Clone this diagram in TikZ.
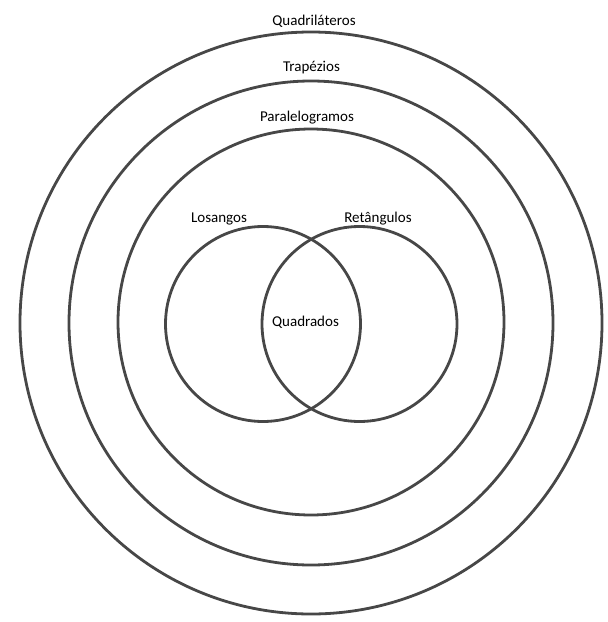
\documentclass[tikz,border=0pt]{standalone}
\usepackage{fontspec}
\setmainfont{Carlito}
\definecolor{ringgray}{HTML}{474747}

\begin{document}
\begin{tikzpicture}[x=1pt,y=-1pt,line cap=round,line join=round,
  every node/.style={inner sep=0pt,font=\fontsize{15}{18}\selectfont},
  ring/.style={draw=ringgray,line width=2.8pt}]
  \useasboundingbox (0,0) rectangle (608,622);
  % nested sets
  \draw[ring] (311,323) circle (291);
  \draw[ring] (311,323) circle (242);
  \draw[ring] (311,322) circle (193);
  % overlapping sets
  \draw[ring] (263,324) circle (97.5);
  \draw[ring] (359.5,324) circle (97.5);
  % labels
  \node (quad) at (314,21) {Quadriláteros};
  \node (trap) at (311.5,68) {Trapézios};
  \node (para) at (307,118) {Paralelogramos};
  \node (losa) at (219,219) {Losangos};
  \node (reta) at (378,219) {Retângulos};
  \node (qdrd) at (305.5,322) {Quadrados};
\end{tikzpicture}
\end{document}
